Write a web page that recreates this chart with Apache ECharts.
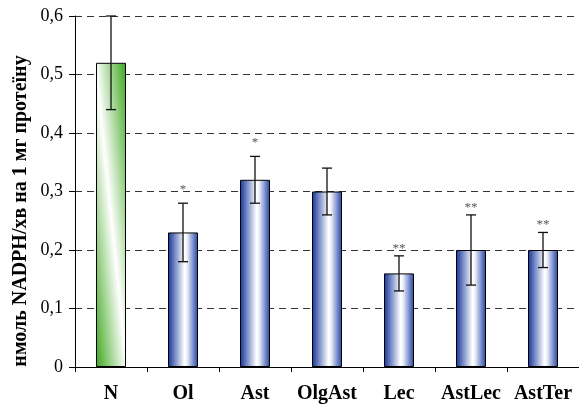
<!DOCTYPE html>
<html>
<head>
<meta charset="utf-8">
<script src="https://cdn.jsdelivr.net/npm/echarts@6/dist/echarts.min.js"></script>
<style>
  html, body { margin: 0; padding: 0; background: #fff; }
  #chart { width: 579px; height: 407px; }
</style>
</head>
<body>
<div id="chart"></div>
<script>
// дані з рисунка
const categories = ["N", "Ol", "Ast", "OlgAst", "Lec", "AstLec", "AstTer"];
const means = [0.52, 0.23, 0.32, 0.30, 0.16, 0.20, 0.20];
const errLow = [0.44, 0.18, 0.28, 0.26, 0.13, 0.14, 0.17];
const errHigh = [0.60, 0.28, 0.36, 0.34, 0.19, 0.26, 0.23];
const marks = ["", "*", "*", "", "**", "**", "**"];
const yTitle = "нмоль NADPH/хв на 1 мг протеїну";

const serif = "'Liberation Serif', 'DejaVu Serif', serif";

const blueFill = new echarts.graphic.LinearGradient(0, 0, 1, 0, [
  { offset: 0, color: "#12339a" },
  { offset: 0.55, color: "#ffffff" },
  { offset: 0.62, color: "#f4f5fb" },
  { offset: 1, color: "#2242a6" },
]);
// зелений стовпчик - діагональна заливка
const greenFill = new echarts.graphic.LinearGradient(-0.49, 0.51, 1.49, 0.49, [
  { offset: 0, color: "#3fa820" },
  { offset: 0.5, color: "#ffffff" },
  { offset: 1, color: "#3fa820" },
]);

const barData = means.map((v, i) => ({
  value: v,
  itemStyle: { color: i === 0 ? greenFill : blueFill },
}));

const errData = categories.map((c, i) => [i, errLow[i], errHigh[i]]);

const chart = echarts.init(document.getElementById("chart"));

const option = {
  animation: false,
  grid: { left: 75, right: 0, top: 16, bottom: 40 },
  graphic: [
    {
      type: "text",
      x: 21,
      y: 211,
      rotation: Math.PI / 2,
      style: {
        text: yTitle,
        fill: "#000",
        font: "bold 20px " + serif,
        textAlign: "center",
        textVerticalAlign: "middle",
      },
    },
  ],
  xAxis: {
    type: "category",
    data: categories,
    axisLine: { lineStyle: { color: "#000", width: 1 } },
    axisTick: { show: true, length: 5, lineStyle: { color: "#000" } },
    axisLabel: {
      interval: 0,
      hideOverlap: false,
      margin: 17,
      color: "#000",
      fontFamily: serif,
      fontWeight: "bold",
      fontSize: 20,
    },
  },
  yAxis: {
    type: "value",
    min: 0,
    max: 0.6,
    interval: 0.1,
    axisLine: { show: true, lineStyle: { color: "#000", width: 1 } },
    axisTick: { show: true, length: 6, lineStyle: { color: "#000" } },
    axisLabel: {
      margin: 12,
      color: "#000",
      fontFamily: serif,
      fontSize: 18,
      formatter: (v) => (v === 0 ? "0" : String(+v.toFixed(1)).replace(".", ",")),
    },
    splitLine: {
      show: true,
      lineStyle: { color: "#333", type: [7, 5], width: 1 },
    },
  },
  series: [
    {
      type: "bar",
      data: barData,
      barWidth: 30,
      itemStyle: { borderColor: "#000", borderWidth: 1 },
    },
    {
      type: "custom",
      data: errData,
      z: 10,
      renderItem: (params, api) => {
        const i = api.value(0);
        const lo = api.coord([i, api.value(1)]);
        const hi = api.coord([i, api.value(2)]);
        const cap = 5;
        const ls = { stroke: "#111", lineWidth: 1.3 };
        const children = [
          { type: "line", shape: { x1: hi[0], y1: hi[1], x2: lo[0], y2: lo[1] }, style: ls },
          { type: "line", shape: { x1: hi[0] - cap, y1: hi[1], x2: hi[0] + cap, y2: hi[1] }, style: ls },
          { type: "line", shape: { x1: lo[0] - cap, y1: lo[1], x2: lo[0] + cap, y2: lo[1] }, style: ls },
        ];
        const m = marks[params.dataIndex];
        if (m) {
          // одна зірочка трохи вище, ніж дві
          const gap = m.length === 1 ? 7 : 1;
          children.push({
            type: "text",
            style: {
              x: hi[0],
              y: hi[1] - gap,
              text: m,
              fill: "#555",
              font: "13px " + serif,
              textAlign: "center",
              textVerticalAlign: "bottom",
            },
          });
        }
        return { type: "group", children };
      },
    },
  ],
};

chart.setOption(option);
</script>
</body>
</html>
